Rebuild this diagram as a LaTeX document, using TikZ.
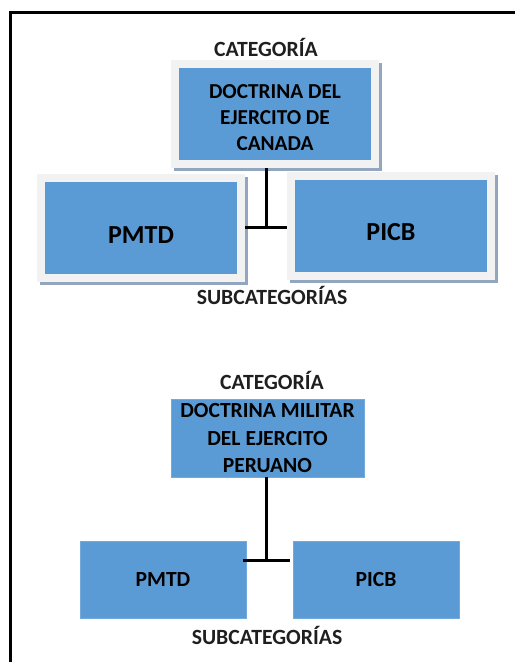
\documentclass[tikz,border=0pt]{standalone}
\usepackage{fontspec}
\setmainfont{Carlito}
\usetikzlibrary{shadows}
\definecolor{boxblue}{HTML}{5B9BD5}
\definecolor{boxrim}{HTML}{F2F2F2}
\definecolor{boxshade}{HTML}{93A6BF}

\begin{document}
\begin{tikzpicture}[x=1pt, y=-1pt,
  box/.style={fill=boxblue, text=black, align=center, inner sep=0pt,
    font=\bfseries\fontsize{21.3}{26}\selectfont},
  rimbox/.style={box, draw=boxrim, line width=8pt, minimum width=200pt, minimum height=100pt,
    drop shadow={shadow xshift=2.5pt, shadow yshift=-2.5pt, fill=boxshade, draw=boxshade, line width=8pt, opacity=1}},
  flatbox/.style={box, draw=boxblue!85!white, line width=0.8pt,
    font=\bfseries\fontsize{21.6}{27.5}\selectfont},
  lbl/.style={font=\bfseries\fontsize{21.7}{24}\selectfont, text=black!88},
  link/.style={line width=3pt}]
  \useasboundingbox (0,0) rectangle (515,662);
  % frame
  \draw[line width=3pt] (10,662) -- (10,12) -- (515,12);

  % Canada
  \node[lbl] (catA) at (266,47) {CATEGORÍA};
  \node[rimbox] (canada) at (275,114) {\rule{0pt}{22pt}DOCTRINA DEL\\EJERCITO DE\\CANADA};
  \node[rimbox, font=\bfseries\fontsize{26}{30}\selectfont, text height=30pt] (pmtdA) at (141,228) {PMTD};
  \node[rimbox, font=\bfseries\fontsize{26}{30}\selectfont, text height=30pt] (picbA) at (391,226) {PICB};
  \node[lbl] (subA) at (272,295) {SUBCATEGORÍAS};
  \coordinate (jA) at (266,227);
  \draw[link] (canada.south -| jA) -- (jA);
  \draw[link] (pmtdA.east |- jA) -- (picbA.west |- jA);

  % Peru
  \node[lbl] (catB) at (272,380) {CATEGORÍA};
  \node[flatbox, minimum width=193pt, minimum height=78pt] (peru) at (267.5,438) {DOCTRINA MILITAR\\DEL EJERCITO\\PERUANO};
  \node[flatbox, minimum width=166pt, minimum height=77pt] (pmtdB) at (163,579.5) {PMTD};
  \node[flatbox, minimum width=166pt, minimum height=77pt] (picbB) at (376,579.5) {PICB};
  \node[lbl] (subB) at (267,635) {SUBCATEGORÍAS};
  \coordinate (jB) at (266,560);
  \draw[link] (peru.south -| jB) -- (jB);
  \draw[link] ([xshift=-3pt]pmtdB.east |- jB) -- ([xshift=-3pt]picbB.west |- jB);
\end{tikzpicture}
\end{document}
